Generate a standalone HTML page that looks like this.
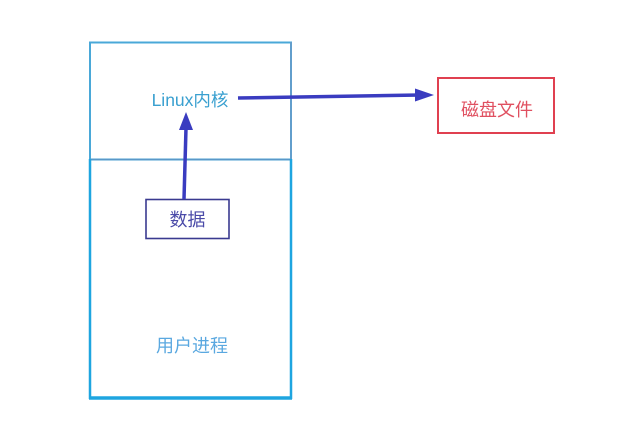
<!DOCTYPE html>
<html><head><meta charset="utf-8"><style>
html,body{margin:0;padding:0;background:#fff;}
svg{display:block;}
text{font-family:"Liberation Sans","Noto Sans CJK SC",sans-serif;}
</style></head><body>
<svg width="640" height="446" viewBox="0 0 640 446" xmlns="http://www.w3.org/2000/svg">
<rect x="0" y="0" width="640" height="446" fill="#fff"/>
<rect x="90" y="42.5" width="201" height="117" fill="none" stroke="#4aa8d8" stroke-width="2"/>
<line x1="291" y1="42" x2="291" y2="159" stroke="#6a9ac8" stroke-width="1.5"/>
<line x1="90" y1="159.5" x2="291" y2="159.5" stroke="#5a98c8" stroke-width="1.5"/>
<line x1="90" y1="159" x2="90" y2="399" stroke="#1ea5e0" stroke-width="2.5"/>
<line x1="291" y1="159" x2="291" y2="399" stroke="#1ea5e0" stroke-width="2.5"/>
<line x1="89" y1="398" x2="292" y2="398" stroke="#1ea5e0" stroke-width="3.5"/>
<text x="190" y="106" font-size="17.5" fill="#3aa0d0" text-anchor="middle">Linux内核</text>
<text x="192" y="352" font-size="18" fill="#5aa8e0" text-anchor="middle">用户进程</text>
<rect x="146" y="199.5" width="83" height="39" fill="#fff" stroke="#3a3a90" stroke-width="1.6"/>
<text x="187.5" y="226" font-size="18" fill="#4a4aa8" text-anchor="middle">数据</text>
<rect x="438" y="78" width="116" height="55" fill="none" stroke="#e04050" stroke-width="2"/>
<text x="497" y="116" font-size="18" fill="#e05060" text-anchor="middle">磁盘文件</text>
<line x1="184" y1="199" x2="186" y2="128" stroke="#3a3cc0" stroke-width="3.5"/>
<polygon points="186,112 179,130 193,130" fill="#3a3cc0"/>
<line x1="238" y1="98" x2="420" y2="95" stroke="#3a3cc0" stroke-width="3.5"/>
<polygon points="434,95 415,88.5 415,101.5" fill="#3a3cc0"/>
</svg>
</body></html>
